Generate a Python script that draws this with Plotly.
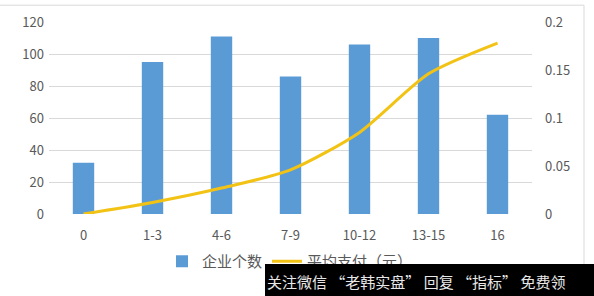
import plotly.graph_objects as go

categories = ["0", "1-3", "4-6", "7-9", "10-12", "13-15", "16"]
company_counts = [32, 95, 111, 86, 106, 110, 62]
avg_payment = [0.0, 0.012, 0.027, 0.046, 0.085, 0.146, 0.178]
left_ticks = [0, 20, 40, 60, 80, 100, 120]
right_ticks = [0, 0.05, 0.1, 0.15, 0.2]
right_tick_text = ["0", "0.05", "0.1", "0.15", "0.2"]

W, H = 594, 296
L, R, T, B = 49, 62, 20, 82
pw, ph = W - L - R, H - T - B

def px(x):
    return (x - L) / pw

def py(y):
    return (H - B - y) / ph

fig = go.Figure()
fig.add_trace(go.Bar(
    x=categories, y=company_counts, name="企业个数",
    marker=dict(color="#5b9bd5", line=dict(width=0)), yaxis="y",
))
fig.add_trace(go.Scatter(
    x=categories, y=avg_payment, name="平均支付（元）", mode="lines",
    line=dict(color="#f2c314", width=3, shape="spline", smoothing=0.7), yaxis="y2",
))

font = dict(family="Noto Sans CJK SC, Noto Sans, sans-serif", size=12, color="#595959")
fig.update_layout(
    width=W, height=H,
    margin=dict(l=L, r=R, t=T, b=B),
    paper_bgcolor="white", plot_bgcolor="white",
    font=font,
    bargap=0.69,
    showlegend=True,
    legend=dict(orientation="h", x=px(290), xanchor="center", y=py(262), yanchor="middle",
                font=dict(size=15, color="#595959"), bgcolor="rgba(0,0,0,0)",
                itemwidth=30),
    xaxis=dict(showgrid=False, showline=False, ticks="", ticklabelstandoff=12,
               tickfont=dict(size=13, color="#595959")),
    yaxis=dict(range=[0, 120], tickvals=left_ticks, showgrid=True, gridcolor="#d9d9d9",
               gridwidth=1, zeroline=False, showline=False, ticks="", ticklen=0,
               tickfont=dict(size=13, color="#595959"), ticklabelstandoff=4),
    yaxis2=dict(range=[0, 0.2], tickvals=right_ticks, ticktext=right_tick_text, overlaying="y",
                side="right", showgrid=False, zeroline=False, showline=False,
                tickfont=dict(size=13, color="#595959"), ticklabelstandoff=12),
    shapes=[
        dict(type="line", xref="paper", yref="paper", x0=px(0), x1=px(584), y0=py(3), y1=py(3),
             line=dict(color="#d9d9d9", width=1)),
        dict(type="line", xref="paper", yref="paper", x0=px(584), x1=px(584), y0=py(3), y1=py(265),
             line=dict(color="#d9d9d9", width=1)),
    ],
    annotations=[
        dict(text="关注微信 “老韩实盘” 回复 “指标” 免费领", xref="paper", yref="paper",
             x=px(265), y=py(265), xanchor="left", yanchor="top", showarrow=False,
             width=325, height=31, align="left", valign="middle", bgcolor="black",
             borderpad=2, borderwidth=0,
             font=dict(family="Noto Sans CJK SC", size=15, color="#e8e8e8")),
    ],
)

fig.write_html("out.html")
